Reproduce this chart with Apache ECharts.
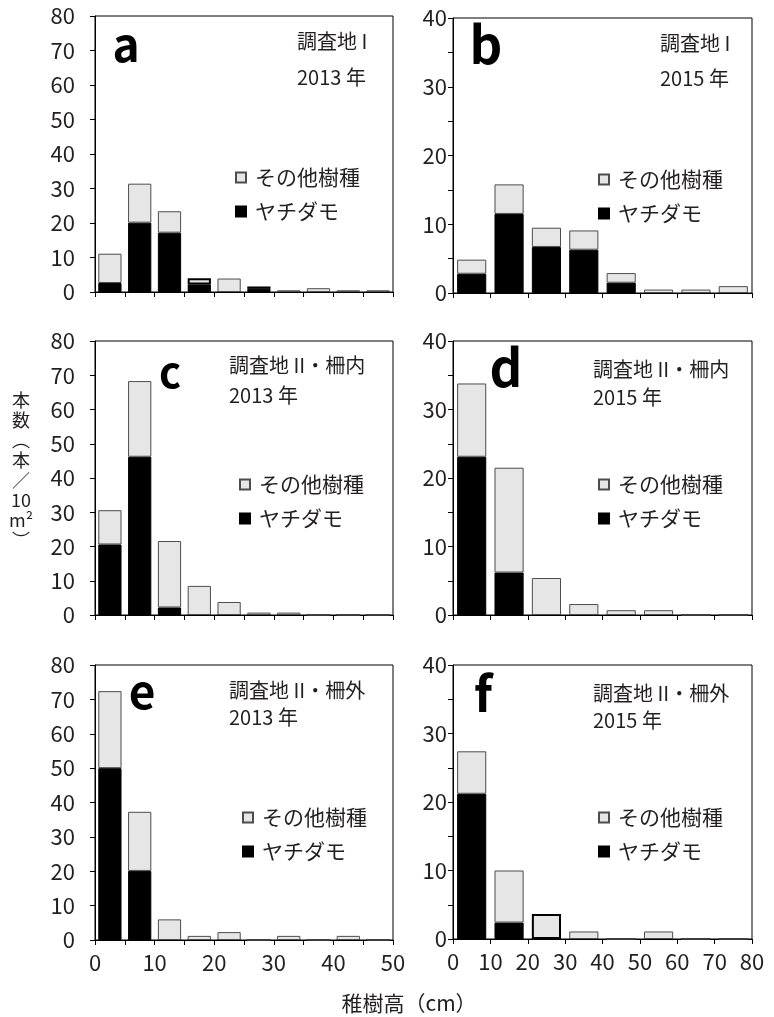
<!DOCTYPE html>
<html><head><meta charset="utf-8">
<script src="https://cdn.jsdelivr.net/npm/echarts@6/dist/echarts.min.js"></script>
<style>html,body{margin:0;padding:0;background:#fff}#c{width:774px;height:1017px}</style>
</head><body><div id="c"></div>
<script>
// ---------- data ----------
const binsSmall = ['0-5', '5-10', '10-15', '15-20', '20-25', '25-30', '30-35', '35-40', '40-45', '45-50']; // cm
const binsLarge = ['0-10', '10-20', '20-30', '30-40', '40-50', '50-60', '60-70', '70-80'];                // cm
const xLabelsSmall = [0, 10, 20, 30, 40, 50];
const xLabelsLarge = [0, 10, 20, 30, 40, 50, 60, 70, 80];
const yLabelsLeft = [0, 10, 20, 30, 40, 50, 60, 70, 80];
const yLabelsRight = [0, 10, 20, 30, 40];
const seriesNames = ['ヤチダモ', 'その他樹種'];

const aYachidamo = [2.6, 20.1, 17.2, 2.2, 0, 0.9, 0, 0, 0, 0];
const aOther     = [8.5, 11.3, 6.2, 1.8, 3.9, 0.7, 0.5, 1.1, 0.5, 0.5];
const bYachidamo = [2.8, 11.5, 6.7, 6.3, 1.5, 0, 0, 0];
const bOther     = [2.05, 4.3, 2.8, 2.8, 1.4, 0.5, 0.5, 1.0];
const cYachidamo = [20.6, 46.2, 2.2, 0, 0, 0, 0, 0, 0, 0];
const cOther     = [10.0, 22.1, 19.4, 8.5, 3.8, 0.7, 0.7, 0, 0, 0];
const dYachidamo = [23.1, 6.2, 0, 0, 0, 0, 0, 0];
const dOther     = [10.7, 15.3, 5.4, 1.6, 0.7, 0.7, 0, 0];
const eYachidamo = [50.0, 20.1, 0, 0, 0, 0, 0, 0, 0, 0];
const eOther     = [22.4, 17.2, 6.0, 1.2, 2.3, 0, 1.2, 0, 1.2, 0];
const fYachidamo = [21.2, 2.4, 0, 0, 0, 0, 0, 0];
const fOther     = [6.2, 7.6, 3.65, 1.1, 0, 1.1, 0, 0];

const siteLabels = ['調査地 I', '調査地 I', '調査地 II・柵内', '調査地 II・柵内', '調査地 II・柵外', '調査地 II・柵外'];
const yearLabels = ['2013 年', '2015 年', '2013 年', '2015 年', '2013 年', '2015 年'];
const panelLetters = ['a', 'b', 'c', 'd', 'e', 'f'];
const yAxisTitle = ['本', '数', '︵', '本', '／', '10', 'm²', '︶'];
const xAxisTitle = '稚樹高（cm）';

// ---------- layout / build ----------
const FONT = "'Noto Sans CJK JP', 'Noto Sans', sans-serif";
const TXT = '#231f20';
const GRAY = '#e6e6e6';

const panels = [
  {bins: binsSmall, xl: xLabelsSmall, yl: yLabelsLeft, blk: aYachidamo, oth: aOther, thick: [3, 5],
   grid: {left: 95, top: 16, width: 298, height: 276}, xMax: 50, xInt: 5, yMax: 80, yInt: 10, showX: false, lm: 20,
   letter: {x: 126, y: 45, s: 46}, site: {x: 297, y: 41}, year: {x: 297, y: 77}, leg: {l: 235, t: 167}},
  {bins: binsLarge, xl: xLabelsLarge, yl: yLabelsRight, blk: bYachidamo, oth: bOther, thick: [],
   grid: {left: 453, top: 18, width: 299, height: 275}, xMax: 80, xInt: 10, yMax: 40, yInt: 5, showX: false, lm: 6,
   letter: {x: 486, y: 45, s: 51}, site: {x: 660, y: 43}, year: {x: 660, y: 78}, leg: {l: 598, t: 169}},
  {bins: binsSmall, xl: xLabelsSmall, yl: yLabelsLeft, blk: cYachidamo, oth: cOther, thick: [],
   grid: {left: 95, top: 341, width: 298, height: 274}, xMax: 50, xInt: 5, yMax: 80, yInt: 10, showX: false, lm: 20,
   letter: {x: 170, y: 372, s: 42}, site: {x: 229, y: 365}, year: {x: 229, y: 395}, leg: {l: 239, t: 474}},
  {bins: binsLarge, xl: xLabelsLarge, yl: yLabelsRight, blk: dYachidamo, oth: dOther, thick: [],
   grid: {left: 453, top: 341, width: 299, height: 274}, xMax: 80, xInt: 10, yMax: 40, yInt: 5, showX: false, lm: 6,
   letter: {x: 506, y: 368, s: 51}, site: {x: 593, y: 369}, year: {x: 593, y: 397}, leg: {l: 598, t: 474}},
  {bins: binsSmall, xl: xLabelsSmall, yl: yLabelsLeft, blk: eYachidamo, oth: eOther, thick: [],
   grid: {left: 95, top: 665, width: 298, height: 275}, xMax: 50, xInt: 5, yMax: 80, yInt: 10, showX: true, lm: 20,
   letter: {x: 142, y: 692, s: 46}, site: {x: 229, y: 690}, year: {x: 229, y: 717}, leg: {l: 242, t: 807}},
  {bins: binsLarge, xl: xLabelsLarge, yl: yLabelsRight, blk: fYachidamo, oth: fOther, thick: [2],
   grid: {left: 453, top: 665, width: 299, height: 274}, xMax: 80, xInt: 10, yMax: 40, yInt: 5, showX: true, lm: 6,
   letter: {x: 483, y: 693, s: 49}, site: {x: 593, y: 693}, year: {x: 593, y: 720}, leg: {l: 598, t: 807}}
];

const grids = [], xAxes = [], yAxes = [], series = [], legends = [], graphics = [];
panels.forEach((p, i) => {
  grids.push(Object.assign({show: true, borderColor: '#000', borderWidth: 1, backgroundColor: '#fff'}, p.grid));
  // category axis carrying the bars (ticks fall on class boundaries)
  xAxes.push({
    type: 'category', gridIndex: i, position: 'bottom', data: p.bins, boundaryGap: true,
    axisLine: {show: true, lineStyle: {color: '#000', width: 1}},
    axisTick: {show: true, length: 5, interval: 0, lineStyle: {color: '#000'}},
    axisLabel: {show: false}, splitLine: {show: false}
  });
  // value axis giving the height labels at class boundaries
  xAxes.push({
    type: 'value', gridIndex: i, position: 'bottom', min: 0, max: p.xMax, interval: p.xInt,
    axisLine: {show: false}, axisTick: {show: false}, splitLine: {show: false},
    axisLabel: {show: p.showX, margin: 12, fontSize: 22, color: TXT, fontFamily: FONT,
      formatter: v => p.xl.includes(v) ? String(v) : ''}
  });
  yAxes.push({
    type: 'value', gridIndex: i, min: 0, max: p.yMax, interval: p.yInt,
    axisLine: {show: true, lineStyle: {color: '#000', width: 1}},
    axisTick: {show: true, length: 5, lineStyle: {color: '#000'}},
    splitLine: {show: false},
    axisLabel: {margin: p.lm, fontSize: 22, color: TXT, fontFamily: FONT,
      formatter: v => p.yl.includes(v) ? String(v) : ''}
  });
  series.push({
    name: seriesNames[0], type: 'bar', xAxisIndex: 2 * i, yAxisIndex: i, stack: 's' + i, barCategoryGap: '22%',
    itemStyle: {color: '#000', borderColor: '#000', borderWidth: 1},
    data: p.blk.slice(), silent: true, animation: false
  });
  series.push({
    name: seriesNames[1], type: 'bar', xAxisIndex: 2 * i, yAxisIndex: i, stack: 's' + i, barCategoryGap: '22%',
    itemStyle: {color: GRAY, borderColor: '#4d4d4d', borderWidth: 1},
    data: p.oth.map((v, k) => p.thick.includes(k)
      ? {value: v, itemStyle: {borderColor: '#000', borderWidth: 2}} : v),
    silent: true, animation: false
  });
  legends.push({
    left: p.leg.l, top: p.leg.t, orient: 'vertical', padding: 0, itemGap: 13,
    itemWidth: 10, itemHeight: 10, icon: 'rect', selectedMode: false,
    data: [seriesNames[1], seriesNames[0]],
    textStyle: {fontSize: 21, color: TXT, fontFamily: FONT, padding: [0, 0, 0, 4]}
  });
  graphics.push({type: 'text', x: p.letter.x, y: p.letter.y, silent: true,
    style: {text: panelLetters[i], font: 'bold ' + p.letter.s + 'px ' + FONT, fill: '#000', align: 'center', verticalAlign: 'middle'}});
  graphics.push({type: 'text', x: p.site.x, y: p.site.y, silent: true,
    style: {text: siteLabels[i], font: '20px ' + FONT, fill: TXT, align: 'left', verticalAlign: 'middle'}});
  graphics.push({type: 'text', x: p.year.x, y: p.year.y, silent: true,
    style: {text: yearLabels[i], font: '20px ' + FONT, fill: TXT, align: 'left', verticalAlign: 'middle'}});
});
graphics.push({type: 'text', x: 21, y: 470, silent: true,
  style: {text: yAxisTitle.join('\n'), font: '18px ' + FONT, lineHeight: 20, fill: TXT, align: 'center', verticalAlign: 'middle'}});
graphics.push({type: 'text', x: 409, y: 1003, silent: true,
  style: {text: xAxisTitle, font: '21px ' + FONT, fill: TXT, align: 'center', verticalAlign: 'middle'}});

const chart = echarts.init(document.getElementById('c'), null, {renderer: 'canvas'});
chart.setOption({
  animation: false, backgroundColor: '#fff',
  grid: grids, xAxis: xAxes, yAxis: yAxes, series: series, legend: legends, graphic: graphics
});
</script></body></html>
